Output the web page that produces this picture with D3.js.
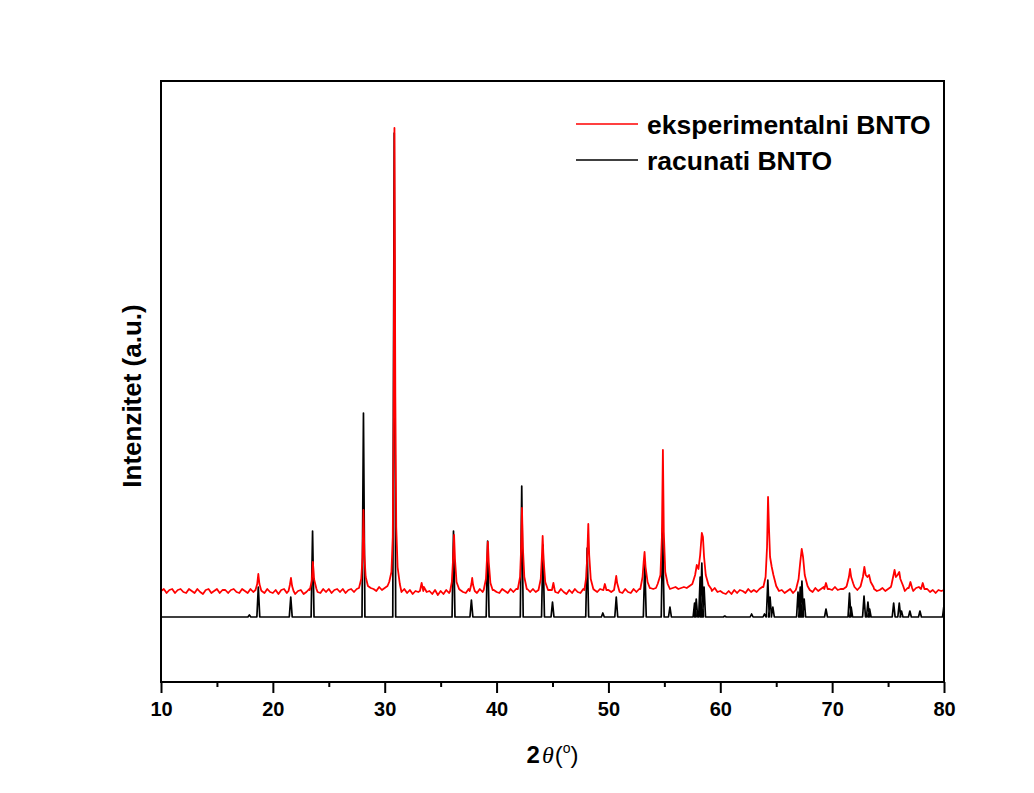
<!DOCTYPE html>
<html>
<head>
<meta charset="utf-8">
<script src="https://cdn.jsdelivr.net/npm/d3@7"></script>
<style>
  html, body { margin: 0; padding: 0; background: #ffffff; }
  svg { display: block; font-family: "Liberation Sans", Arial, sans-serif; }
</style>
</head>
<body>
<svg id="chart" width="1034" height="793"></svg>
<script>
// ---------------- DATA ----------------
const xTicks = [10, 20, 30, 40, 50, 60, 70, 80];
const xMinorTicks = [15, 25, 35, 45, 55, 65, 75];
const seriesNames = ["eksperimentalni BNTO", "racunati BNTO"];

// calculated pattern: [2theta, intensity] (intensity above its baseline)
const calcPeaks = [
  [17.9, 2], [18.7, 30], [21.6, 20], [23.55, 86], [28.1, 204], [30.85, 484],
  [36.15, 86], [37.75, 17], [39.2, 76], [42.25, 131], [44.15, 72], [45.0, 15],
  [48.1, 69], [49.5, 4], [50.7, 20], [53.25, 54], [54.85, 89], [55.5, 10],
  [57.7, 14], [57.85, 18], [58.2, 40], [58.35, 54], [58.55, 30],
  [60.4, 1], [62.8, 3], [63.95, 3],
  [64.25, 37], [64.45, 20], [64.7, 10],
  [66.95, 25], [67.15, 30], [67.3, 36], [67.5, 18],
  [69.45, 8], [71.55, 24], [71.7, 10],
  [72.85, 21], [73.2, 15], [73.35, 8],
  [75.5, 14], [76.0, 14], [76.2, 6], [76.95, 6], [77.85, 6], [80.0, 12]
];

// experimental pattern background (read every 0.25 deg from 10 to 80)
const expStart = 10, expStep = 0.25;
const expBackground = [
  26,28,24,27, 28,24,27,28, 25,24,28,26, 24,28,25,23, 27,28,24,26,
  28,24,27,27, 24,27,28,25, 24,28,26,24, 28,25,27,28, 26,24,28,25,
  24,27,23,27, 28,24,26,26, 23,26,27,23, 25,28,28,27, 25,24,28,25,
  28,24,27,28, 25,28,24,27, 28,25,28,29, 30,32,30,29, 28,26,30,27,
  29,31,33,35, 30,28,25,28, 24,27,23,26, 25,28,30,25, 26,23,27,22,
  26,23,27,24, 26,28,29,27, 25,24,28,29, 25,24,28,25, 26,28,30,27,
  25,24,28,26, 24,28,25,28, 29,31,30,28, 25,28,25,24, 28,30,29,27,
  28,25,24,28, 25,23,27,24, 28,25,24,28, 28,30,29,27, 25,28,27,30,
  27,25,29,28, 25,24,28,25, 24,28,25,28, 29,31,30,29, 28,29,32,34,
  33,29,28,29, 30,28,29,30, 29,31,33,36, 40,45,36,31, 29,26,29,25,
  26,24,23,26, 23,27,24,27, 26,24,28,25, 27,25,28,30, 33,37,38,30,
  28,26,27,24, 26,28,24,27, 28,30,32,28, 27,25,29,26, 28,30,29,28,
  27,30,27,28, 28,30,32,33, 30,27,30,31, 33,30,29,28, 26,27,29,26,
  28,30,31,32, 30,28,26,29, 30,26,29,30, 29,25,28,25, 27,24,27,26,
  27
];

// experimental pattern peaks: each peak as its own [2theta, intensity] points
const expPeaks = [
  [[18.45,27],[18.6,33],[18.7,43],[18.8,33],[18.95,27]],
  [[21.4,26],[21.52,32],[21.62,39],[21.72,31],[21.85,26]],
  [[23.3,27],[23.48,36],[23.58,55],[23.68,38],[23.9,28]],
  [[27.7,29],[27.9,38],[28.02,60],[28.1,107],[28.18,62],[28.3,40],[28.5,31]],
  [[30.4,35],[30.6,45],[30.72,80],[30.8,200],[30.87,489],[30.95,220],[31.03,90],[31.15,50],[31.35,33]],
  [[33.15,26],[33.3,34],[33.45,26]],
  [[35.85,26],[36.0,35],[36.12,60],[36.2,82],[36.28,58],[36.42,35],[36.65,28]],
  [[37.6,26],[37.75,33],[37.82,39],[37.9,32],[38.05,26]],
  [[38.85,27],[39.05,38],[39.15,60],[39.22,75],[39.3,55],[39.45,34],[39.65,27]],
  [[41.9,28],[42.1,40],[42.2,70],[42.27,109],[42.35,70],[42.48,40],[42.7,28]],
  [[43.75,27],[43.95,38],[44.05,60],[44.12,81],[44.2,58],[44.35,35],[44.6,27]],
  [[44.95,27],[45.08,34],[45.2,27]],
  [[47.85,27],[48.02,40],[48.12,65],[48.2,93],[48.28,62],[48.42,38],[48.65,28]],
  [[49.55,27],[49.68,33],[49.82,27]],
  [[50.5,27],[50.62,35],[50.7,41],[50.78,34],[50.95,27]],
  [[52.85,28],[53.05,40],[53.15,55],[53.23,65],[53.32,50],[53.5,35],[53.7,29]],
  [[54.4,33],[54.65,42],[54.78,80],[54.87,167],[54.95,85],[55.08,45],[55.3,33]],
  [[57.5,33],[57.75,42],[57.9,52],[58.05,48],[58.2,62],[58.35,84],[58.45,80],[58.55,60],[58.7,42],[58.95,32],[59.2,28]],
  [[63.85,30],[64.05,40],[64.18,70],[64.27,120],[64.35,90],[64.45,60],[64.6,50],[64.75,42],[65.0,31]],
  [[66.8,29],[67.0,38],[67.15,55],[67.28,68],[67.4,60],[67.55,42],[67.8,31]],
  [[69.3,28],[69.45,34],[69.6,28]],
  [[71.3,31],[71.5,40],[71.6,48],[71.7,40],[71.9,33]],
  [[72.55,31],[72.75,40],[72.88,50],[73.0,42],[73.15,40],[73.3,42],[73.45,35],[73.7,30]],
  [[75.3,32],[75.45,40],[75.58,47],[75.7,40],[75.85,42],[76.0,45],[76.1,38],[76.35,31]],
  [[76.85,29],[77.0,35],[77.15,29]],
  [[77.95,28],[78.1,34],[78.25,28]]
];

// ---------------- LAYOUT ----------------
const W = 1034, H = 793;
const plot = { left: 161, right: 944, top: 81, bottom: 682 };
const svg = d3.select("#chart");

const x = d3.scaleLinear().domain([10, 80]).range([plot.left, plot.right]);
const y = d3.scaleLinear().domain([-65, 536]).range([plot.bottom, plot.top]);

// ---------------- SERIES ----------------
const expBgPts = expBackground.map((v, i) => [expStart + i * expStep, v]);
const peakRanges = expPeaks.map(p => [p[0][0], p[p.length - 1][0]]);
const expPts = expBgPts
  .filter(([t]) => !peakRanges.some(([a, b]) => t >= a && t <= b))
  .concat(expPeaks.flat())
  .sort((a, b) => a[0] - b[0]);

const hw = 0.13;
const calcPts = [[10, 0]];
calcPeaks.forEach(([p, h]) => {
  calcPts.push([p - hw, 0], [p, h], [Math.min(p + hw, 80), p + hw > 80 ? h : 0]);
});
if (calcPts[calcPts.length - 1][0] < 80) calcPts.push([80, 0]);

const line = d3.line().x(d => x(d[0])).y(d => y(d[1]));

svg.append("defs").append("clipPath").attr("id", "clip")
  .append("rect").attr("x", plot.left).attr("y", plot.top)
  .attr("width", plot.right - plot.left).attr("height", plot.bottom - plot.top);

const g = svg.append("g").attr("clip-path", "url(#clip)");
g.append("path").datum(calcPts).attr("d", line)
  .attr("fill", "none").attr("stroke", "#000").attr("stroke-width", 1.7)
  .attr("stroke-linejoin", "round");
g.append("path").datum(expPts).attr("d", line)
  .attr("fill", "none").attr("stroke", "#ff0000").attr("stroke-width", 1.8)
  .attr("stroke-linejoin", "round");

// ---------------- AXES ----------------
const xAxis = d3.axisBottom(x).tickValues(xTicks).tickSize(11).tickPadding(9)
  .tickFormat(d3.format("d"));
const ax = svg.append("g").attr("transform", `translate(0,${plot.bottom})`).call(xAxis);
ax.select(".domain").remove();
ax.selectAll(".tick line").attr("stroke", "#000").attr("stroke-width", 2);
ax.selectAll(".tick text").attr("fill", "#000")
  .style("font-size", "20px").style("font-weight", "bold")
  .style("font-family", "'Liberation Sans', Arial, sans-serif");

const axMinor = d3.axisBottom(x).tickValues(xMinorTicks).tickSize(5).tickFormat("");
const axm = svg.append("g").attr("transform", `translate(0,${plot.bottom})`).call(axMinor);
axm.select(".domain").remove();
axm.selectAll(".tick line").attr("stroke", "#000").attr("stroke-width", 2);

svg.append("rect")
  .attr("x", plot.left).attr("y", plot.top)
  .attr("width", plot.right - plot.left).attr("height", plot.bottom - plot.top)
  .attr("fill", "none").attr("stroke", "#000").attr("stroke-width", 2);

// axis titles
const xt = svg.append("text")
  .attr("x", (plot.left + plot.right) / 2).attr("y", 763)
  .attr("text-anchor", "middle")
  .style("font-size", "24px").style("font-weight", "bold").attr("fill", "#000");
xt.append("tspan").text("2");
xt.append("tspan").text("θ").style("font-style", "italic").style("font-weight", "normal")
  .style("font-family", "'Liberation Serif', 'DejaVu Serif', serif").attr("dx", 2);
xt.append("tspan").text("(").style("font-weight", "normal").attr("dx", 1);
xt.append("tspan").text("o").style("font-size", "14px").style("font-weight", "normal").attr("dy", -10);
xt.append("tspan").text(")").style("font-weight", "normal").attr("dy", 10);

svg.append("text")
  .attr("transform", `translate(141,${396}) rotate(-90)`)
  .attr("text-anchor", "middle")
  .style("font-size", "26px").style("font-weight", "bold").attr("fill", "#000")
  .text("Intenzitet (a.u.)");

// ---------------- LEGEND ----------------
const legend = [
  { name: seriesNames[0], color: "#ff0000", y: 124 },
  { name: seriesNames[1], color: "#000000", y: 160 }
];
const lg = svg.append("g");
legend.forEach(l => {
  lg.append("line").attr("x1", 576).attr("x2", 638).attr("y1", l.y).attr("y2", l.y)
    .attr("stroke", l.color).attr("stroke-width", 1.6);
  lg.append("text").attr("x", 647).attr("y", l.y + 10)
    .style("font-size", "26.5px").style("font-weight", "bold").attr("fill", "#000")
    .text(l.name);
});
</script>
</body>
</html>
